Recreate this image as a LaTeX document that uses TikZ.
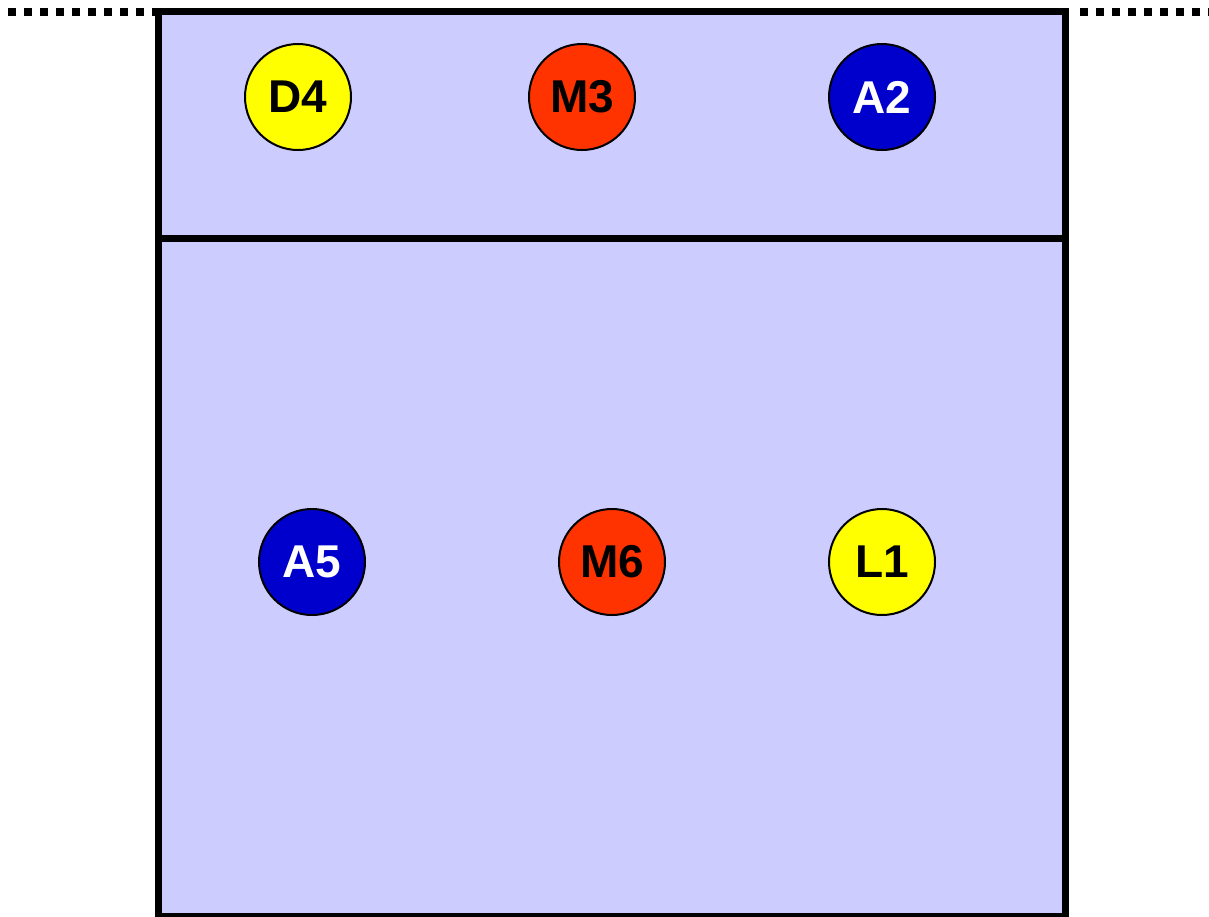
\documentclass[tikz,border=0pt]{standalone}
\usepackage{fontspec}
\setmainfont{Liberation Sans}
\definecolor{courtfill}{HTML}{CCCCFF}
\definecolor{pyellow}{HTML}{FFFF00}
\definecolor{pred}{HTML}{FF3300}
\definecolor{pblue}{HTML}{0000CC}
\tikzset{
  player/.style={circle, draw=black, line width=1pt, minimum size=53pt, inner sep=0pt, font=\fontsize{23}{26}\selectfont\bfseries},
  yel/.style={player, fill=pyellow, text=black},
  red/.style={player, fill=pred, text=black},
  blu/.style={player, fill=pblue, text=white},
  courtline/.style={line width=3.5pt},
  netline/.style={line width=4pt, dash pattern=on 4pt off 4pt}
}
\begin{document}
\begin{tikzpicture}[x=0.5pt,y=-0.5pt]
\useasboundingbox (0,0) rectangle (1209,916);
\fill[courtfill] (158.5,11.5) rectangle (1065.5,916);
\draw[netline] (8,11.5) -- (155,11.5);
\draw[netline] (1080,11.5) -- (1209,11.5);
\draw[courtline] (158.5,922) -- (158.5,11.5) -- (1065.5,11.5) -- (1065.5,922);
\draw[courtline] (155,916) -- (1069,916);
\draw[courtline] (158.5,238) -- (1065.5,238);
\node[yel] (D4) at (298,97) {D4};
\node[red] (M3) at (582,97) {M3};
\node[blu] (A2) at (882,97) {A2};
\node[blu] (A5) at (312,562) {A5};
\node[red] (M6) at (612,562) {M6};
\node[yel] (L1) at (882,562) {L1};
\end{tikzpicture}
\end{document}
